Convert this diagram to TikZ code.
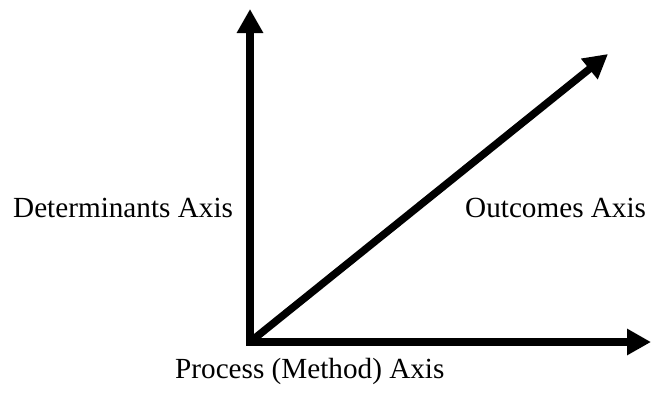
\documentclass[tikz,border=0pt]{standalone}
\usepackage{fontspec}
\setmainfont{Liberation Serif}
\usetikzlibrary{arrows.meta}
\begin{document}
\begin{tikzpicture}[x=1pt,y=-1pt,
  axis/.style={line width=7.5pt,-{Triangle[length=24pt,width=25pt]}},
  lbl/.style={inner sep=0pt,anchor=base west,font=\fontsize{29.2}{35}\selectfont}]
\useasboundingbox (0,0) rectangle (652,394);
\coordinate (o) at (250,342);
\coordinate (ytip) at (250,9);
\coordinate (xtip) at (651,342);
\coordinate (dtip) at (608,54);
\draw[axis] ([yshift=-3.75pt]o) -- (ytip);
\draw[axis] ([xshift=-3.75pt]o) -- (xtip);
\draw[axis] (o) -- (dtip);
\node[lbl] (det) at (13,217) {Determinants Axis};
\node[lbl] (out) at (465,217) {Outcomes Axis};
\node[lbl] (proc) at (175,378) {Process (Method) Axis};
\end{tikzpicture}
\end{document}
